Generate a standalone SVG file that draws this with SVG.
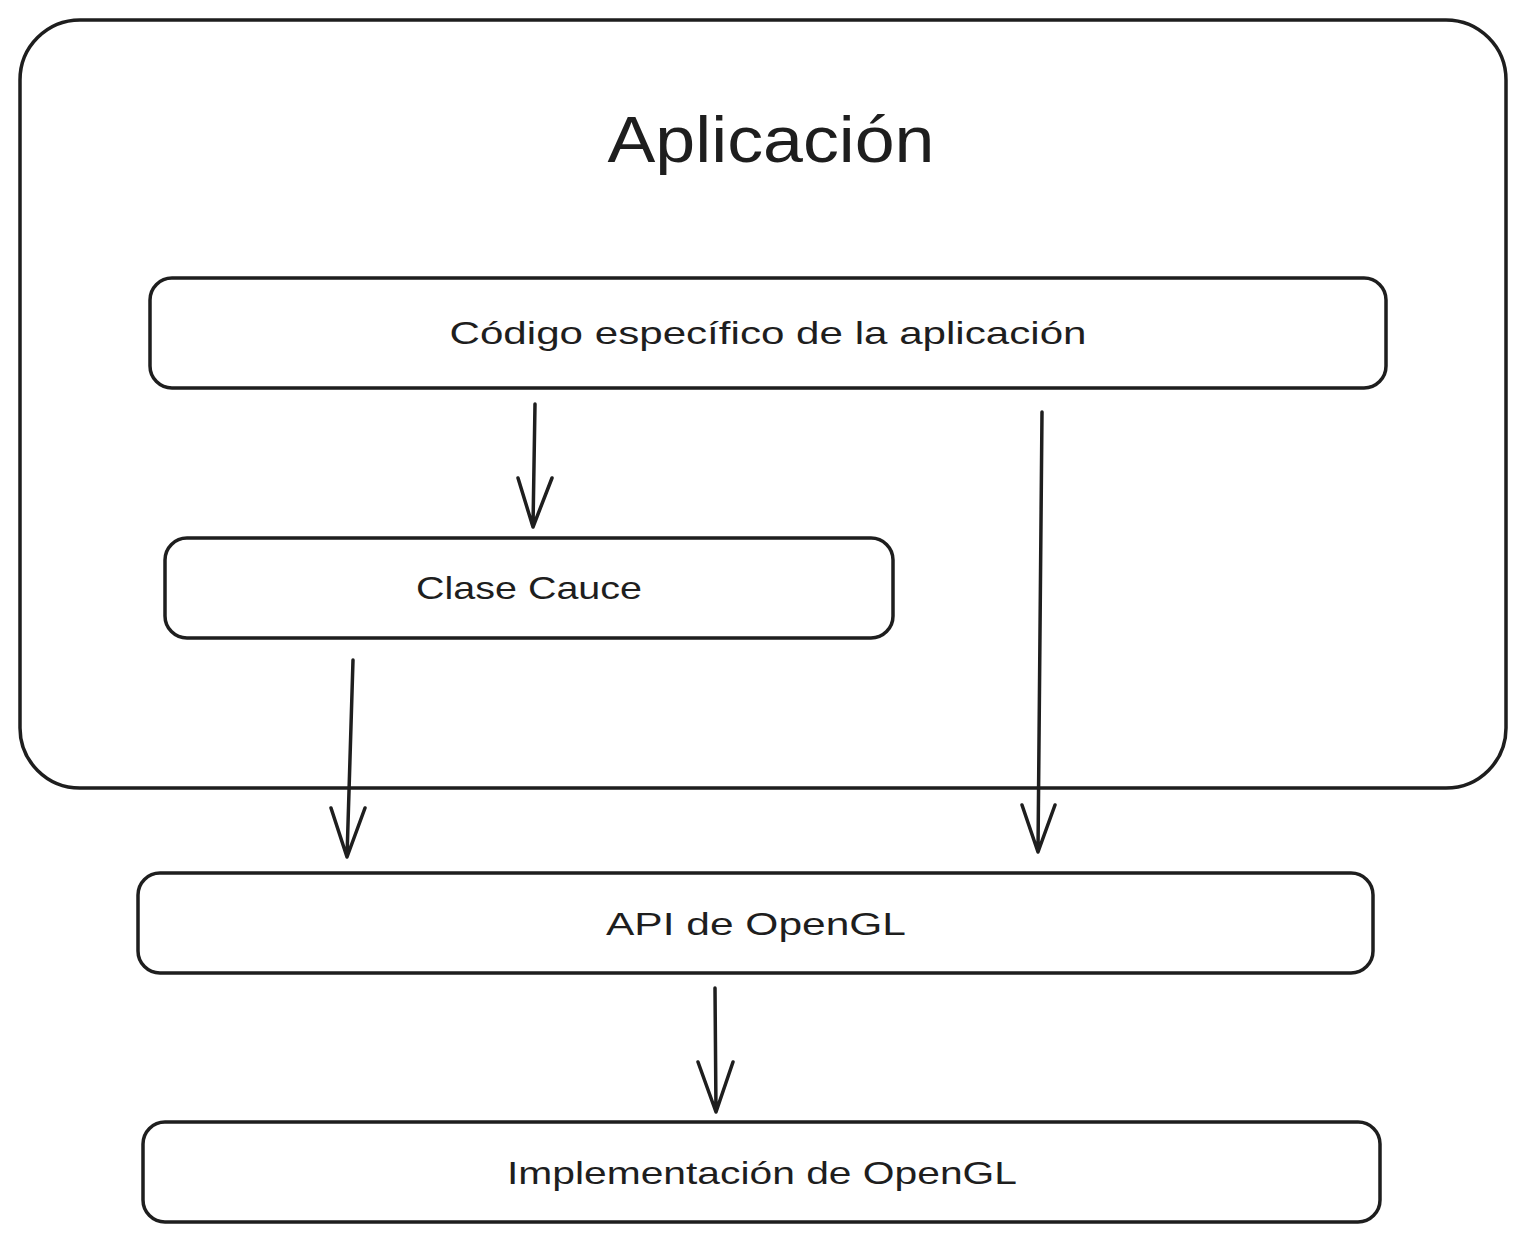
<svg xmlns="http://www.w3.org/2000/svg" width="1526" height="1243" viewBox="0 0 1526 1243">
<style>
.box{fill:#fff;stroke:#1e1e1e;stroke-width:3.5}
.t{font-family:"Liberation Sans",Arial,sans-serif;fill:#1e1e1e;text-anchor:middle}
.c{fill:none;stroke:#1e1e1e;stroke-width:3.5;stroke-linecap:round;stroke-linejoin:round}
</style>
<rect width="1526" height="1243" fill="#fff"/>
<g id="aplicacion">
<rect class="box" x="20" y="20" width="1486" height="768" rx="60"/>
<text class="t" x="771" y="162" font-size="64" textLength="327" lengthAdjust="spacingAndGlyphs">Aplicación</text>
</g>
<g id="codigo">
<rect class="box" x="150" y="278" width="1236" height="110" rx="22"/>
<text class="t" x="768" y="344" font-size="32" textLength="637" lengthAdjust="spacingAndGlyphs">Código específico de la aplicación</text>
</g>
<g id="cauce">
<rect class="box" x="165" y="538" width="728" height="100" rx="22"/>
<text class="t" x="529" y="599" font-size="32" textLength="226" lengthAdjust="spacingAndGlyphs">Clase Cauce</text>
</g>
<g id="api">
<rect class="box" x="138" y="873" width="1235" height="100" rx="22"/>
<text class="t" x="756" y="935" font-size="32" textLength="300" lengthAdjust="spacingAndGlyphs">API de OpenGL</text>
</g>
<g id="impl">
<rect class="box" x="143" y="1122" width="1237" height="100" rx="22"/>
<text class="t" x="762" y="1184" font-size="32" textLength="510" lengthAdjust="spacingAndGlyphs">Implementación de OpenGL</text>
</g>
<g id="connectors">
<path class="c" d="M535 404 L533 527 M518 478 L533 527 L552 478"/>
<path class="c" d="M353 660 L347 857 M331 808 L347 857 L365 808"/>
<path class="c" d="M1042 412 L1038 852 M1022 805 L1038 852 L1055 805"/>
<path class="c" d="M715 988 L716 1112 M698 1062 L716 1112 L733 1062"/>
</g>
</svg>
